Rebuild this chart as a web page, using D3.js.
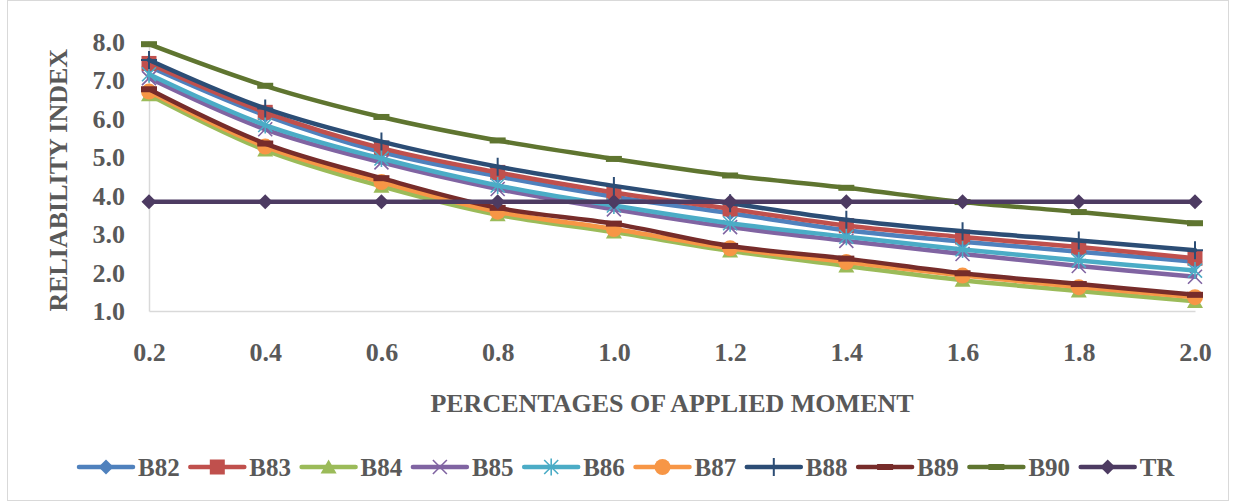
<!DOCTYPE html>
<html>
<head>
<meta charset="utf-8">
<script src="https://cdnjs.cloudflare.com/ajax/libs/d3/7.8.5/d3.min.js"></script>
<style>
  html, body { margin: 0; padding: 0; background: #fff; }
  svg { display: block; }
  text { font-family: "Liberation Serif", "Times New Roman", serif; font-weight: bold; fill: #595959; }
</style>
</head>
<body>
<svg id="chart" width="1237" height="503"></svg>
<script>
// ---- data ----
const xValues = [0.2, 0.4, 0.6, 0.8, 1.0, 1.2, 1.4, 1.6, 1.8, 2.0];
const xTickLabels = ["0.2", "0.4", "0.6", "0.8", "1.0", "1.2", "1.4", "1.6", "1.8", "2.0"];
const yTicks = [1, 2, 3, 4, 5, 6, 7, 8];
const seriesNames = ["B82", "B83", "B84", "B85", "B86", "B87", "B88", "B89", "B90", "TR"];
const B82 = [7.35, 6.08, 5.13, 4.50, 3.97, 3.54, 3.10, 2.80, 2.54, 2.28];
const B83 = [7.43, 6.16, 5.23, 4.60, 4.08, 3.65, 3.22, 2.92, 2.66, 2.37];
const B84 = [6.62, 5.18, 4.24, 3.50, 3.05, 2.56, 2.17, 1.80, 1.52, 1.25];
const B85 = [7.05, 5.72, 4.86, 4.17, 3.64, 3.18, 2.82, 2.48, 2.17, 1.89];
const B86 = [7.15, 5.83, 4.96, 4.26, 3.74, 3.28, 2.93, 2.60, 2.31, 2.05];
const B87 = [6.70, 5.27, 4.35, 3.58, 3.13, 2.63, 2.27, 1.92, 1.62, 1.36];
const B88 = [7.52, 6.26, 5.40, 4.75, 4.25, 3.80, 3.37, 3.07, 2.83, 2.58];
const B89 = [6.76, 5.35, 4.45, 3.68, 3.27, 2.69, 2.36, 1.98, 1.70, 1.42];
const B90 = [7.93, 6.85, 6.04, 5.43, 4.95, 4.52, 4.20, 3.83, 3.57, 3.28];
const TR  = [3.84, 3.84, 3.84, 3.84, 3.84, 3.84, 3.84, 3.84, 3.84, 3.84];
const seriesValues = [B82, B83, B84, B85, B86, B87, B88, B89, B90, TR];
const seriesColors = ["#4F81BD", "#C0504D", "#9BBB59", "#8064A2", "#4BACC6", "#F79646", "#2C4D75", "#772C2A", "#5F7530", "#4D3B62"];
const seriesMarkers = ["diamond", "square", "triangle", "x", "star", "circle", "plus", "dash", "dash", "diamond"];

// ---- layout ----
const svg = d3.select("#chart");
const W = 1237, H = 503;
const plotLeft = 149, plotRight = 1195, plotTop = 41.5, plotBottom = 311;

svg.append("rect").attr("x", 7.5).attr("y", 0.5).attr("width", 1221).attr("height", 500)
  .attr("fill", "#fff").attr("stroke", "#d9d9d9").attr("stroke-width", 1);

const x = d3.scalePoint().domain(xValues).range([plotLeft, plotRight]);
const y = d3.scaleLinear().domain([1, 8]).range([plotBottom, plotTop]);

// axes
const yAxis = d3.axisLeft(y).tickValues(yTicks).tickFormat(d3.format(".1f")).tickSize(0).tickPadding(24);
const gy = svg.append("g").attr("transform", `translate(${plotLeft},0)`).call(yAxis);
gy.select(".domain").attr("stroke", "#d9d9d9").attr("stroke-width", 1.5);
gy.selectAll("text").attr("font-size", 26).style("font-family", "'Liberation Serif', serif").style("font-weight", "bold").attr("fill", "#595959").attr("dy", "0.34em");

const xAxis = d3.axisBottom(x).tickFormat((d, i) => xTickLabels[i]).tickSize(0).tickPadding(32);
const gx = svg.append("g").attr("transform", `translate(0,${plotBottom})`).call(xAxis);
gx.select(".domain").attr("stroke", "#d9d9d9").attr("stroke-width", 1.5);
gx.selectAll("text").attr("font-size", 26).style("font-family", "'Liberation Serif', serif").style("font-weight", "bold").attr("fill", "#595959");

// titles
svg.append("text").attr("x", (plotLeft + plotRight) / 2).attr("y", 412).attr("text-anchor", "middle")
  .attr("font-size", 26).text("PERCENTAGES OF APPLIED MOMENT");
svg.append("text").attr("transform", `translate(67,${(plotTop + plotBottom) / 2 + 4}) rotate(-90)`)
  .attr("text-anchor", "middle").attr("font-size", 26).text("RELIABILITY INDEX");

// markers
function drawMarker(g, type, color, cx, cy) {
  const m = g.append("g").attr("transform", `translate(${cx},${cy})`);
  switch (type) {
    case "diamond":
      m.append("path").attr("d", "M0,-7.5L7.5,0L0,7.5L-7.5,0Z").attr("fill", color); break;
    case "square":
      m.append("rect").attr("x", -7.5).attr("y", -7.5).attr("width", 15).attr("height", 15).attr("fill", color); break;
    case "triangle":
      m.append("path").attr("d", "M0,-7.5L8,6.5L-8,6.5Z").attr("fill", color); break;
    case "circle":
      m.append("circle").attr("r", 8).attr("fill", color); break;
    case "x":
      m.append("path").attr("d", "M-7,-7L7,7M-7,7L7,-7").attr("stroke", color).attr("stroke-width", 1.6).attr("fill", "none"); break;
    case "star":
      m.append("path").attr("d", "M-7,-7L7,7M-7,7L7,-7M0,-8.5L0,8.5").attr("stroke", color).attr("stroke-width", 1.6).attr("fill", "none"); break;
    case "plus":
      m.append("path").attr("d", "M0,-9L0,9M-8,0L8,0").attr("stroke", color).attr("stroke-width", 2).attr("fill", "none"); break;
    case "dash":
      m.append("rect").attr("x", -8).attr("y", -3).attr("width", 16).attr("height", 6).attr("fill", color); break;
  }
}

const line = d3.line().x((d, i) => x(xValues[i])).y(d => y(d)).curve(d3.curveCatmullRom.alpha(0.5));

seriesNames.forEach((name, s) => {
  const g = svg.append("g").attr("class", "series");
  g.append("path").attr("d", line(seriesValues[s])).attr("fill", "none")
    .attr("stroke", seriesColors[s]).attr("stroke-width", 4.5).attr("stroke-linecap", "round").attr("stroke-linejoin", "round");
  seriesValues[s].forEach((v, i) => drawMarker(g, seriesMarkers[s], seriesColors[s], x(xValues[i]), y(v)));
});

// legend
const legendY = 467;
const legend = svg.append("g");
seriesNames.forEach((name, s) => {
  const x0 = 79 + s * 111.3;
  const g = legend.append("g");
  g.append("line").attr("x1", x0).attr("x2", x0 + 54).attr("y1", legendY).attr("y2", legendY)
    .attr("stroke", seriesColors[s]).attr("stroke-width", 4.5).attr("stroke-linecap", "round");
  drawMarker(g, seriesMarkers[s], seriesColors[s], x0 + 27, legendY);
  g.append("text").attr("x", x0 + 59).attr("y", legendY + 9).attr("font-size", 25).text(name);
});
</script>
</body>
</html>
